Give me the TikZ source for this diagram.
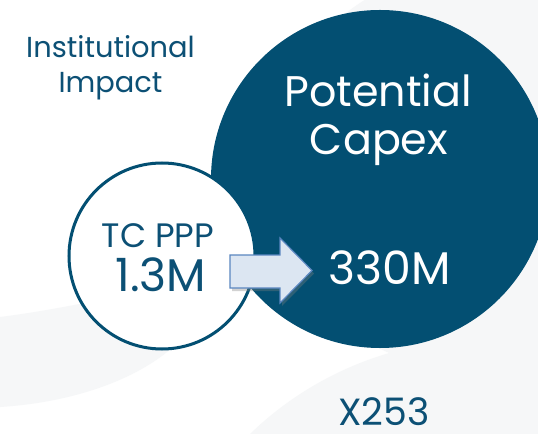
\documentclass[tikz,border=0pt]{standalone}
\usepackage{fontspec}
\setmainfont{Poppins}
\usetikzlibrary{shadows}
\definecolor{dblue}{HTML}{034F72}
\definecolor{tblue}{HTML}{0C5075}
\definecolor{faint}{HTML}{F6F7F8}
\definecolor{arrfill}{HTML}{DCE6F2}
\definecolor{arrdraw}{HTML}{5A86C0}
\tikzset{
  lbl/.style={anchor=base, inner sep=0pt, text depth=0pt, text=tblue},
  wlbl/.style={anchor=base, inner sep=0pt, text depth=0pt, text=white},
}
\begin{document}
\begin{tikzpicture}[x=1bp,y=-1bp]
\clip (0,0) rectangle (538,434);
\fill[white] (0,0) rectangle (538,434);
% faint background shapes
\fill[faint] (0,317) .. controls (40,312) and (80,304) .. (120,296) -- (185,335) .. controls (150,375) and (80,402) .. (0,407) -- cycle;
\fill[faint] (250,434) .. controls (290,395) and (360,348) .. (460,340) .. controls (500,337) and (530,339) .. (538,342) -- (538,434) -- cycle;
\fill[faint] (470,170) circle[radius=200];
% big circle
\node[circle, fill=dblue, minimum size=338bp, inner sep=0pt] (big) at (380,179) {};
% small circle
\node[circle, fill=white, draw=dblue, line width=3bp, minimum size=186bp, inner sep=0pt] (small) at (162,256) {};
% arrow
\draw[fill=arrfill, draw=arrdraw, line width=1.2bp, drop shadow={shadow xshift=2bp, shadow yshift=-3bp, opacity=0.35}]
  (230,255) -- (280,255) -- (280,238) -- (312,270.5) -- (280,303) -- (280,288) -- (230,288) -- cycle;
% texts
\node[lbl, font=\fontsize{29}{34}\selectfont] (inst) at (110.5,57.7) {Institutional};
\node[lbl, font=\fontsize{29}{34}\selectfont] (imp) at (110.5,92.7) {Impact};
\node[wlbl, font=\fontsize{43}{48}\selectfont] (pot) at (378,106.7) {Potential};
\node[wlbl, font=\fontsize{43}{48}\selectfont] (cap) at (379,155) {Capex};
\node[lbl, font=\fontsize{34}{40}\selectfont] (tc) at (158,247.3) {TC PPP};
\node[lbl, font=\fontsize{46}{52}\selectfont] (m1) at (161,291) {1.3M};
\node[wlbl, font=\fontsize{46}{52}\selectfont] (m330) at (390,284) {330M};
\node[lbl, font=\fontsize{38}{44}\selectfont] (x) at (384,425) {X253};
\end{tikzpicture}
\end{document}
